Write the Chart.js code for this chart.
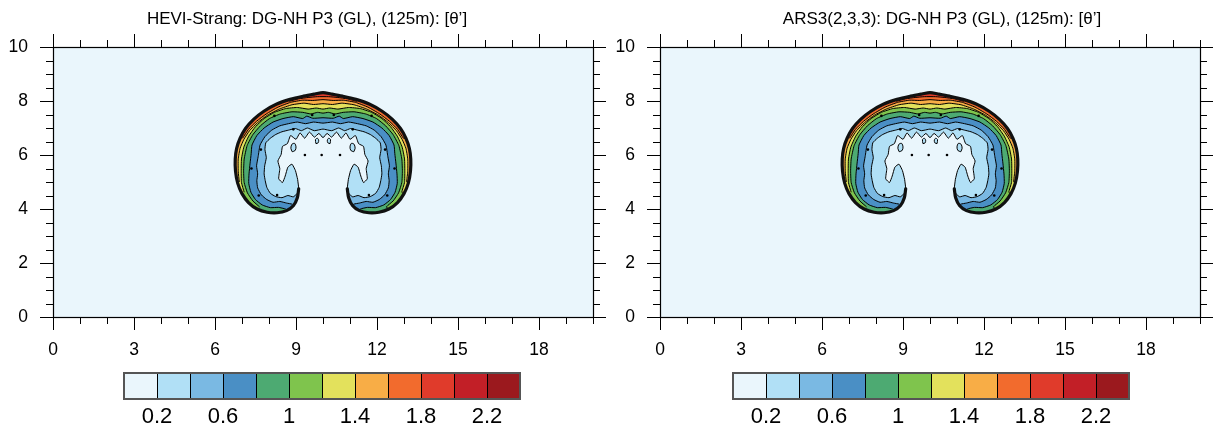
<!DOCTYPE html>
<html>
<head>
<meta charset="utf-8">
<script src="https://cdn.jsdelivr.net/npm/chart.js@4.4.0/dist/chart.umd.min.js"></script>
<style>
  body { margin: 0; background: #fff; width: 1224px; height: 430px; position: relative; overflow: hidden; }
  canvas { position: absolute; }
</style>
</head>
<body>
<canvas id="plotLeft" width="612" height="365" style="left:0;top:0"></canvas>
<canvas id="plotRight" width="612" height="365" style="left:607px;top:0"></canvas>
<canvas id="barLeft" width="440" height="70" style="left:104px;top:360px"></canvas>
<canvas id="barRight" width="440" height="70" style="left:713px;top:360px"></canvas>
<script>
// contour levels and their fill colours (band k spans levels[k]..levels[k+1])
const levels = [0, 0.2, 0.4, 0.6, 0.8, 1.0, 1.2, 1.4, 1.6, 1.8, 2.0, 2.2, 2.4];
const fillColors = ['#EAF6FC', '#B1E0F6', '#7AB9E3', '#4A8FC5', '#4DAA72', '#7FC44D',
                    '#E3E15C', '#F8AD46', '#F26B2D', '#E03B2B', '#C21F27', '#9B191E'];
const barTicks = [0.2, 0.6, 1.0, 1.4, 1.8, 2.2];

const xMajor = [0, 3, 6, 9, 12, 15, 18];
const xMinor = [1, 2, 4, 5, 7, 8, 10, 11, 13, 14, 16, 17, 19, 20];
const yMajor = [0, 2, 4, 6, 8, 10];
const yMinor = [0.5, 1, 1.5, 2.5, 3, 3.5, 4.5, 5, 5.5, 6.5, 7, 7.5, 8.5, 9, 9.5];

// outer edge of the bubble, left lobe inner side -> over the top -> right lobe inner side
const rim = [
  [9.06, 5.10], [9.10, 4.75], [9.05, 4.42], [8.90, 4.12], [8.65, 3.94], [8.30, 3.86],
  [7.93, 3.88], [7.56, 4.00], [7.24, 4.24], [7.00, 4.57], [6.84, 4.96], [6.76, 5.40],
  [6.75, 5.85], [6.80, 6.24], [6.93, 6.62], [7.13, 6.98], [7.43, 7.32], [7.81, 7.62],
  [8.27, 7.88], [8.78, 8.06], [9.28, 8.18], [9.70, 8.26], [10.00, 8.31], [10.30, 8.26],
  [10.72, 8.18], [11.22, 8.06], [11.73, 7.88], [12.19, 7.62], [12.57, 7.32], [12.87, 6.98],
  [13.07, 6.62], [13.20, 6.24], [13.25, 5.85], [13.24, 5.40], [13.16, 4.96], [13.00, 4.57],
  [12.76, 4.24], [12.44, 4.00], [12.07, 3.88], [11.70, 3.86], [11.35, 3.94], [11.10, 4.12],
  [10.95, 4.42], [10.90, 4.75], [10.94, 5.10]
];

// isolines, each running left to right
const iso02 = [
  [9.06, 5.10], [8.98, 5.42], [8.85, 5.66], [8.70, 5.55], [8.60, 5.22], [8.50, 4.98],
  [8.36, 5.12], [8.40, 5.50], [8.33, 5.78], [8.45, 6.02], [8.50, 6.32], [8.68, 6.42],
  [8.80, 6.72], [9.00, 6.58], [9.15, 6.82], [9.32, 6.62], [9.50, 6.85], [9.68, 6.66],
  [9.85, 6.80], [10.00, 6.64], [10.15, 6.80], [10.32, 6.66], [10.50, 6.85], [10.68, 6.62],
  [10.85, 6.82], [11.00, 6.58], [11.20, 6.72], [11.32, 6.42], [11.50, 6.32], [11.55, 6.02],
  [11.67, 5.78], [11.60, 5.50], [11.64, 5.12], [11.50, 4.98], [11.40, 5.22], [11.30, 5.55],
  [11.15, 5.66], [11.02, 5.42], [10.94, 5.10]
];
const iso04 = [
  [9.05, 4.58], [8.90, 4.45], [8.70, 4.50], [8.48, 4.42], [8.25, 4.46], [8.05, 4.58],
  [7.92, 4.80], [7.86, 5.05], [7.82, 5.30], [7.84, 5.60], [7.90, 5.90], [7.85, 6.20],
  [7.88, 6.45], [8.05, 6.62], [8.25, 6.76], [8.48, 6.86], [8.72, 6.92], [8.98, 6.98],
  [9.20, 6.90], [9.42, 7.00], [9.68, 6.90], [10.00, 6.96], [10.32, 6.90], [10.58, 7.00],
  [10.80, 6.90], [11.02, 6.98], [11.28, 6.92], [11.52, 6.86], [11.75, 6.76], [11.95, 6.62],
  [12.12, 6.45], [12.15, 6.20], [12.10, 5.90], [12.16, 5.60], [12.18, 5.30], [12.14, 5.05],
  [12.08, 4.80], [11.95, 4.58], [11.75, 4.46], [11.52, 4.42], [11.30, 4.50], [11.10, 4.45],
  [10.95, 4.58]
];
const iso06 = [
  [8.86, 4.18], [8.65, 4.22], [8.40, 4.28], [8.15, 4.25], [7.92, 4.35], [7.72, 4.52],
  [7.58, 4.78], [7.55, 5.05], [7.58, 5.30], [7.54, 5.60], [7.60, 5.95], [7.67, 6.37],
  [7.85, 6.68], [8.10, 6.92], [8.40, 7.08], [8.72, 7.16], [9.05, 7.22], [9.35, 7.16],
  [9.65, 7.22], [10.00, 7.18], [10.35, 7.22], [10.65, 7.16], [10.95, 7.22], [11.28, 7.16],
  [11.60, 7.08], [11.90, 6.92], [12.15, 6.68], [12.33, 6.37], [12.40, 5.95], [12.46, 5.60],
  [12.42, 5.30], [12.45, 5.05], [12.42, 4.78], [12.28, 4.52], [12.08, 4.35], [11.85, 4.25],
  [11.60, 4.28], [11.35, 4.22], [11.14, 4.18]
];
const iso08 = [
  [8.62, 4.00], [8.35, 4.06], [8.05, 4.05], [7.75, 4.15], [7.50, 4.35], [7.33, 4.62],
  [7.25, 4.95], [7.26, 5.30], [7.30, 5.70], [7.34, 6.05], [7.37, 6.37], [7.55, 6.72],
  [7.82, 7.00], [8.15, 7.22], [8.52, 7.35], [8.90, 7.42], [9.25, 7.35], [9.40, 7.44],
  [9.62, 7.36], [10.00, 7.38], [10.38, 7.36], [10.60, 7.44], [10.75, 7.35], [11.10, 7.42],
  [11.48, 7.35], [11.85, 7.22], [12.18, 7.00], [12.45, 6.72], [12.63, 6.37], [12.66, 6.05],
  [12.70, 5.70], [12.74, 5.30], [12.75, 4.95], [12.67, 4.62], [12.50, 4.35], [12.25, 4.15],
  [11.95, 4.05], [11.65, 4.06], [11.38, 4.00]
];
const iso10 = [
  [7.65, 4.08], [7.40, 4.30], [7.20, 4.60], [7.08, 4.98], [7.06, 5.40], [7.08, 5.85],
  [7.19, 6.35], [7.40, 6.75], [7.68, 7.08], [8.02, 7.35], [8.42, 7.52], [8.85, 7.60],
  [9.25, 7.58], [9.55, 7.52], [9.80, 7.58], [10.00, 7.55], [10.20, 7.58], [10.45, 7.52],
  [10.75, 7.58], [11.15, 7.60], [11.58, 7.52], [11.98, 7.35], [12.32, 7.08], [12.60, 6.75],
  [12.81, 6.35], [12.92, 5.85], [12.94, 5.40], [12.92, 4.98], [12.80, 4.60], [12.60, 4.30],
  [12.35, 4.08]
];
const iso12 = [
  [7.08, 4.62], [6.98, 4.98], [6.97, 5.40], [6.98, 5.85], [7.07, 6.30], [7.25, 6.70],
  [7.50, 7.05], [7.82, 7.35], [8.20, 7.58], [8.62, 7.72], [9.05, 7.76], [9.45, 7.70],
  [9.75, 7.74], [10.00, 7.70], [10.25, 7.74], [10.55, 7.70], [10.95, 7.76], [11.38, 7.72],
  [11.80, 7.58], [12.18, 7.35], [12.50, 7.05], [12.75, 6.70], [12.93, 6.30], [13.02, 5.85],
  [13.03, 5.40], [13.02, 4.98], [12.92, 4.62]
];
const iso14 = [
  [6.90, 5.00], [6.86, 5.40], [6.86, 5.85], [6.93, 6.25], [7.07, 6.58], [7.28, 6.90],
  [7.58, 7.20], [7.95, 7.48], [8.38, 7.70], [8.85, 7.86], [9.30, 7.92], [9.65, 7.87],
  [10.00, 7.90], [10.35, 7.87], [10.70, 7.92], [11.15, 7.86], [11.62, 7.70], [12.05, 7.48],
  [12.42, 7.20], [12.72, 6.90], [12.93, 6.58], [13.07, 6.25], [13.14, 5.85], [13.14, 5.40],
  [13.10, 5.00]
];
const iso16 = [
  [7.02, 6.62], [7.24, 6.95], [7.54, 7.25], [7.90, 7.52], [8.33, 7.77], [8.80, 7.95],
  [9.25, 8.03], [9.62, 8.02], [10.00, 8.05], [10.38, 8.02], [10.75, 8.03], [11.20, 7.95],
  [11.67, 7.77], [12.10, 7.52], [12.46, 7.25], [12.76, 6.95], [12.98, 6.62]
];
const iso18 = [
  [8.75, 7.99], [9.10, 8.08], [9.45, 8.13], [9.80, 8.16], [10.20, 8.16], [10.55, 8.13],
  [10.90, 8.08], [11.25, 7.99]
];

// small closed contours inside the core
const islands = [
  [[8.86, 6.12], [8.97, 6.17], [9.00, 6.30], [8.95, 6.43], [8.85, 6.40], [8.81, 6.25], [8.86, 6.12]],
  [[11.14, 6.12], [11.03, 6.17], [11.00, 6.30], [11.05, 6.43], [11.15, 6.40], [11.19, 6.25], [11.14, 6.12]],
  [[9.74, 6.42], [9.82, 6.45], [9.84, 6.55], [9.79, 6.62], [9.72, 6.57], [9.74, 6.42]],
  [[10.26, 6.42], [10.18, 6.45], [10.16, 6.55], [10.21, 6.62], [10.28, 6.57], [10.26, 6.42]]
];
const specks = [
  [9.33, 6.0], [9.95, 6.0], [10.63, 6.0], [7.35, 5.5], [12.65, 5.5], [8.2, 7.45],
  [11.8, 7.45], [9.6, 7.48], [10.4, 7.48], [7.62, 4.5], [12.38, 4.5], [8.3, 4.52],
  [11.7, 4.52], [8.9, 6.95], [11.1, 6.95], [7.7, 6.2], [12.3, 6.2]
];

// [isoline, first rim index, last rim index, colour band]
const layers = [
  [iso02, 0, 44, 1], [iso04, 1, 43, 2], [iso06, 3, 41, 3], [iso08, 4, 40, 4],
  [iso10, 7, 37, 5], [iso12, 9, 35, 6], [iso14, 10, 34, 7], [iso16, 14, 30, 8],
  [iso18, 19, 25, 9]
];

const FONT = '"Liberation Sans", Arial, Helvetica, sans-serif';
const toPoints = arr => arr.map(([x, y]) => ({ x, y }));

function contourDatasets() {
  const sets = [];
  layers.forEach(([iso, from, to, band]) => {
    const ring = rim.slice(from, to + 1).concat(iso.slice().reverse());
    sets.push({
      data: toPoints(ring), showLine: true, fill: 'shape',
      backgroundColor: fillColors[band], borderColor: '#000', borderWidth: 1,
      pointRadius: 0, tension: 0.15
    });
  });
  islands.forEach(isl => {
    sets.push({
      data: toPoints(isl), showLine: true, fill: 'shape',
      backgroundColor: fillColors[1], borderColor: '#000', borderWidth: 1,
      pointRadius: 0, tension: 0.3
    });
  });
  // the steep outer edge packs all isolines together
  sets.push({
    data: toPoints(rim.slice(1, 44)), showLine: true, fill: false,
    borderColor: '#111', borderWidth: 3.2, borderJoinStyle: 'round', borderCapStyle: 'round',
    pointRadius: 0, tension: 0.3
  });
  sets.push({
    data: toPoints(specks), showLine: false,
    pointRadius: 1.3, pointBackgroundColor: '#000', pointBorderWidth: 0
  });
  // first dataset at the bottom
  sets.forEach((s, i) => { s.order = sets.length - i; });
  return sets;
}

const plotFrame = {
  id: 'plotFrame',
  beforeDatasetsDraw(chart) {
    const { ctx, chartArea: a } = chart;
    ctx.save();
    ctx.fillStyle = fillColors[0];
    ctx.fillRect(a.left, a.top, a.width, a.height);
    ctx.restore();
  },
  afterDraw(chart, args, opts) {
    const { ctx, chartArea: a, scales: { x, y } } = chart;
    ctx.save();
    ctx.strokeStyle = '#000';
    ctx.lineWidth = 1;
    ctx.beginPath();
    const vTick = (v, len) => {
      const px = Math.round(x.getPixelForValue(v)) + 0.5;
      ctx.moveTo(px, a.bottom); ctx.lineTo(px, a.bottom + len);
      ctx.moveTo(px, a.top); ctx.lineTo(px, a.top - len);
    };
    const hTick = (v, len) => {
      const py = Math.round(y.getPixelForValue(v)) + 0.5;
      ctx.moveTo(a.left, py); ctx.lineTo(a.left - len, py);
      ctx.moveTo(a.right, py); ctx.lineTo(a.right + len, py);
    };
    xMajor.forEach(v => vTick(v, 13));
    xMinor.forEach(v => vTick(v, 7));
    yMajor.forEach(v => hTick(v, 13));
    yMinor.forEach(v => hTick(v, 7));
    ctx.stroke();
    ctx.lineWidth = 1.2;
    ctx.strokeRect(a.left + 0.5, a.top + 0.5, a.width, a.height);
    ctx.fillStyle = '#000';
    ctx.font = '17px ' + FONT;
    ctx.textAlign = 'center';
    ctx.textBaseline = 'middle';
    ctx.fillText(opts.title, opts.titleX, 19);
    ctx.restore();
  }
};

function makePlot(id, title, titleX) {
  new Chart(document.getElementById(id), {
    type: 'scatter',
    data: { datasets: contourDatasets() },
    plugins: [plotFrame],
    options: {
      responsive: false,
      animation: false,
      layout: { padding: { top: 47, right: 19, left: 0, bottom: 0 } },
      plugins: {
        legend: { display: false },
        tooltip: { enabled: false },
        plotFrame: { title, titleX }
      },
      scales: {
        x: {
          type: 'linear', min: 0, max: 20,
          afterBuildTicks: s => { s.ticks = xMajor.map(v => ({ value: v })); },
          afterFit: s => { s.height = 48; },
          grid: { display: false, drawTicks: false },
          border: { display: false },
          ticks: { color: '#000', padding: 23, maxRotation: 0, autoSkip: false, font: { family: FONT, size: 17.5 } }
        },
        y: {
          type: 'linear', min: 0, max: 10,
          afterBuildTicks: s => { s.ticks = yMajor.map(v => ({ value: v })); },
          afterFit: s => { s.width = 53; },
          grid: { display: false, drawTicks: false },
          border: { display: false },
          ticks: { color: '#000', padding: 25, autoSkip: false, font: { family: FONT, size: 17.5 } }
        }
      }
    }
  });
}

const barFrame = {
  id: 'barFrame',
  afterDatasetsDraw(chart) {
    const { ctx, chartArea: a, scales: { x } } = chart;
    ctx.save();
    ctx.strokeStyle = '#000';
    ctx.lineWidth = 1;
    ctx.beginPath();
    levels.slice(1, -1).forEach(v => {
      const px = Math.round(x.getPixelForValue(v)) + 0.5;
      ctx.moveTo(px, a.top); ctx.lineTo(px, a.bottom);
    });
    ctx.stroke();
    ctx.strokeStyle = '#555';
    ctx.lineWidth = 2;
    ctx.strokeRect(a.left, a.top, a.width, a.height);
    ctx.restore();
  }
};

function makeColorBar(id) {
  new Chart(document.getElementById(id), {
    type: 'bar',
    data: {
      labels: [''],
      datasets: fillColors.map((c, k) => ({
        data: [[levels[k], levels[k + 1]]],
        backgroundColor: c, borderWidth: 0,
        barPercentage: 1, categoryPercentage: 1, grouped: false
      }))
    },
    plugins: [barFrame],
    options: {
      indexAxis: 'y',
      responsive: false,
      animation: false,
      layout: { padding: { top: 13, left: 20, right: 24, bottom: 0 } },
      plugins: { legend: { display: false }, tooltip: { enabled: false } },
      scales: {
        x: {
          type: 'linear', min: 0, max: 2.4,
          afterBuildTicks: s => { s.ticks = barTicks.map(v => ({ value: v })); },
          afterFit: s => { s.height = 31; },
          grid: { display: false, drawTicks: false },
          border: { display: false },
          ticks: {
            color: '#000', padding: 5, maxRotation: 0, autoSkip: false,
            font: { family: FONT, size: 22 },
            callback: v => String(Math.round(v * 10) / 10)
          }
        },
        y: { display: false }
      }
    }
  });
}

makePlot('plotLeft', 'HEVI-Strang: DG-NH P3 (GL), (125m): [\u03b8\u2019]', 307);
makePlot('plotRight', 'ARS3(2,3,3): DG-NH P3 (GL), (125m): [\u03b8\u2019]', 335);
makeColorBar('barLeft');
makeColorBar('barRight');
</script>
</body>
</html>
